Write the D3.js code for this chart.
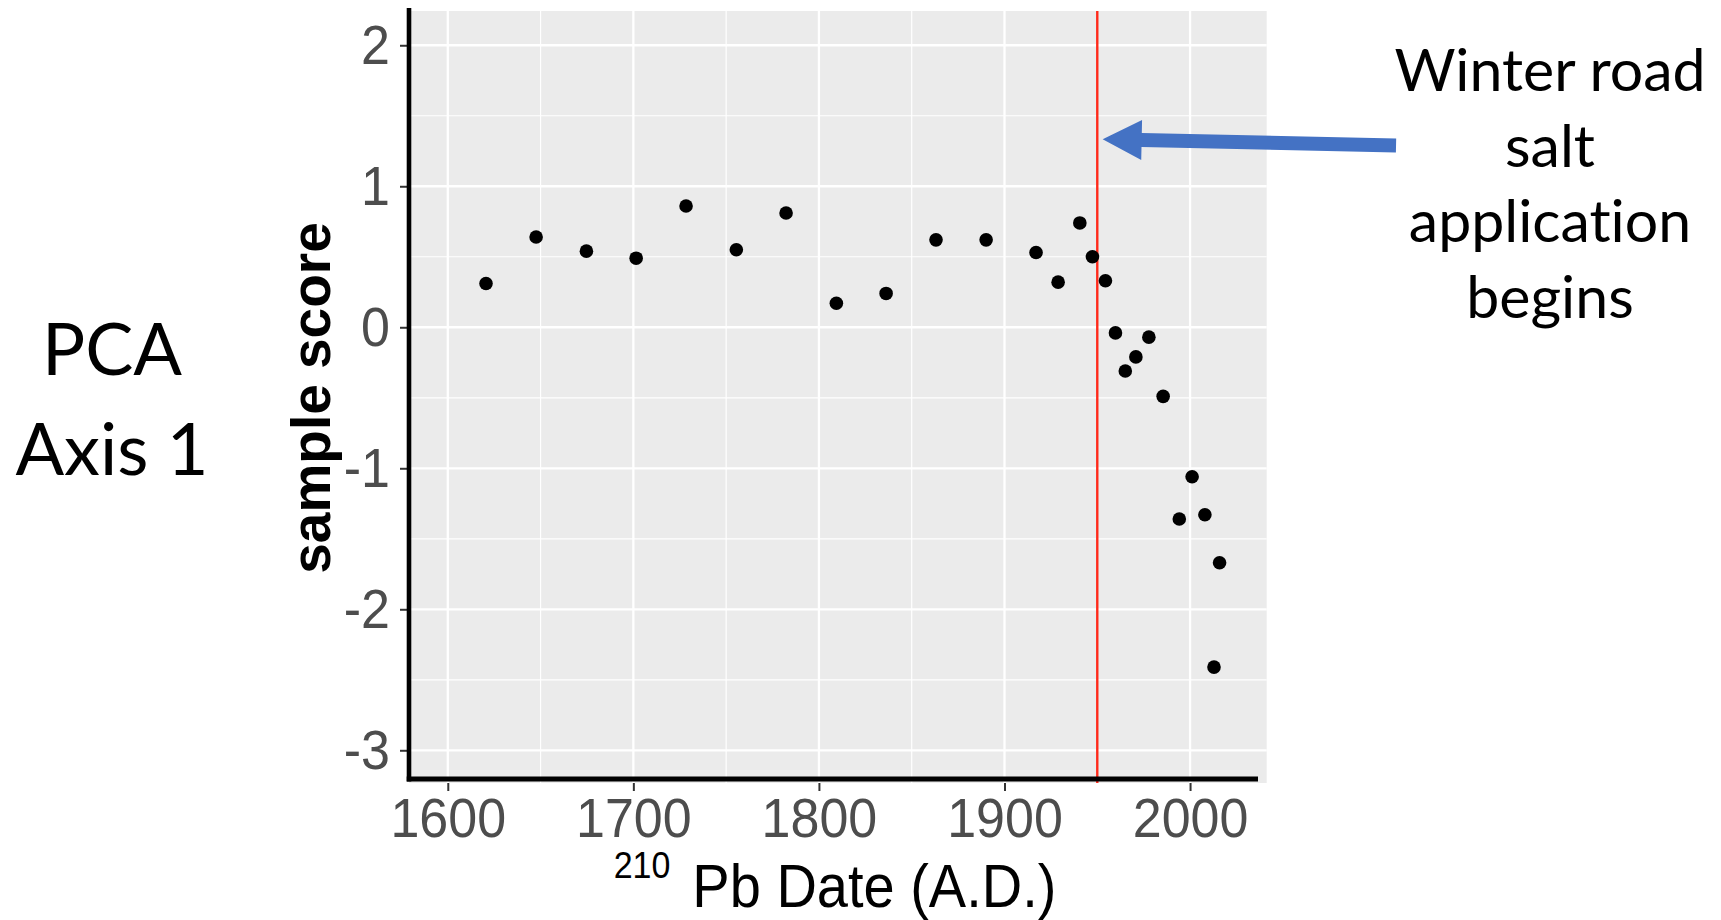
<!DOCTYPE html>
<html lang="en">
<head>
<meta charset="utf-8">
<title>PCA Axis 1 sample score vs 210Pb date</title>
<script src="https://d3js.org/d3.v7.min.js"></script>
<style>
  html, body { margin: 0; padding: 0; background: #fff; }
  text { font-variant-ligatures: none; }
</style>
</head>
<body>
<script>
// chart size
var w = 1721, h = 920;

// data
var years  = [1620.6, 1647.6, 1674.7, 1701.5, 1728.4, 1755.5, 1782.3, 1809.4, 1836.2,
              1863.1, 1890.1, 1917.0, 1928.9, 1940.6, 1947.4, 1954.4, 1959.8, 1965.1,
              1970.8, 1977.8, 1985.5, 1994.2, 2001.1, 2008.0, 2012.9, 2015.9];
var scores = [0.31, 0.64, 0.54, 0.49, 0.86, 0.55, 0.81, 0.17, 0.24,
              0.62, 0.62, 0.53, 0.32, 0.74, 0.50, 0.33, -0.04, -0.31,
              -0.21, -0.07, -0.49, -1.36, -1.06, -1.33, -2.41, -1.67];

var xTicks = [1600, 1700, 1800, 1900, 2000];
var xMinor = [1650, 1750, 1850, 1950];
var yTicks = [-3, -2, -1, 0, 1, 2];
var yMinor = [-2.5, -1.5, -0.5, 0.5, 1.5];

var saltYear = 1950;
var arrowFrom = [2111, 1.29];    // tail (year, score)
var arrowTo   = [1952.9, 1.333]; // head tip

var sideLabel = ["PCA", "Axis 1"];
var noteLines = ["Winter road", "salt", "application", "begins"];

// panel
var panel = { left: 409, right: 1266.7, top: 11, bottom: 783 };

var x = d3.scaleLinear().domain([1579.1, 2041.3]).range([panel.left, panel.right]);
var y = d3.scaleLinear().domain([2.243, -3.232]).range([panel.top, panel.bottom]);

var svg = d3.select("body").append("svg")
    .attr("width", w)
    .attr("height", h);

// grey panel
svg.append("rect")
    .attr("x", panel.left).attr("y", panel.top)
    .attr("width", panel.right - panel.left)
    .attr("height", panel.bottom - panel.top)
    .attr("fill", "#EBEBEB");

// grid: minor then major
var grid = svg.append("g");
grid.selectAll(".ymin").data(yMinor).enter().append("line")
    .attr("x1", panel.left).attr("x2", panel.right)
    .attr("y1", function(d) { return y(d); }).attr("y2", function(d) { return y(d); })
    .attr("stroke", "#fff").attr("stroke-width", 1.2);
grid.selectAll(".xmin").data(xMinor).enter().append("line")
    .attr("y1", panel.top).attr("y2", panel.bottom)
    .attr("x1", function(d) { return x(d); }).attr("x2", function(d) { return x(d); })
    .attr("stroke", "#fff").attr("stroke-width", 1.2);
grid.selectAll(".ymaj").data(yTicks).enter().append("line")
    .attr("x1", panel.left).attr("x2", panel.right)
    .attr("y1", function(d) { return y(d); }).attr("y2", function(d) { return y(d); })
    .attr("stroke", "#fff").attr("stroke-width", 2.3);
grid.selectAll(".xmaj").data(xTicks).enter().append("line")
    .attr("y1", panel.top).attr("y2", panel.bottom)
    .attr("x1", function(d) { return x(d); }).attr("x2", function(d) { return x(d); })
    .attr("stroke", "#fff").attr("stroke-width", 2.3);

// red line where salt starts
svg.append("line")
    .attr("x1", x(saltYear)).attr("x2", x(saltYear))
    .attr("y1", panel.top).attr("y2", panel.bottom)
    .attr("stroke", "#FF2A1A").attr("stroke-width", 2.4);

// points
svg.selectAll("circle")
    .data(years)
    .enter()
    .append("circle")
    .attr("cx", function(d) { return x(d); })
    .attr("cy", function(d, i) { return y(scores[i]); })
    .attr("r", 6.8)
    .attr("fill", "#000");

// axes
var xAxis = svg.append("g")
    .attr("transform", "translate(0," + panel.bottom + ")")
    .call(d3.axisBottom(x).tickValues(xTicks).tickFormat(d3.format("d")).tickSize(8).tickPadding(5));
var yAxis = svg.append("g")
    .attr("transform", "translate(" + (panel.left - 2) + ",0)")
    .call(d3.axisLeft(y).tickValues(yTicks).tickFormat(d3.format("d")).tickSize(7).tickPadding(10));

[xAxis, yAxis].forEach(function(a) {
    a.select(".domain").remove();
    a.selectAll(".tick line").attr("stroke", "#333").attr("stroke-width", 2);
    a.selectAll(".tick text")
        .attr("fill", "#4D4D4D")
        .attr("transform", "scale(1,1.08)")   // the picture is a bit stretched up-down
        .style("font-family", "'Liberation Sans', Arial, sans-serif")
        .style("font-size", "52px");
});
yAxis.selectAll(".tick text").text(function(d) { return d < 0 ? "-" + Math.abs(d) : d; });

// black axis lines
svg.append("line")
    .attr("x1", panel.left).attr("x2", panel.left)
    .attr("y1", 8).attr("y2", 781.5)
    .attr("stroke", "#000").attr("stroke-width", 4.6);
svg.append("line")
    .attr("x1", panel.left - 2.3).attr("x2", 1258)
    .attr("y1", 779).attr("y2", 779)
    .attr("stroke", "#000").attr("stroke-width", 4.8);

// axis titles
svg.append("text")
    .attr("transform", "translate(330,398) rotate(-90)")
    .attr("text-anchor", "middle")
    .style("font-family", "'Liberation Sans', Arial, sans-serif")
    .style("font-weight", "bold")
    .style("font-size", "55px")
    .attr("fill", "#000")
    .text("sample score");

var xt = svg.append("text")
    .attr("transform", "translate(835,907) scale(1,1.08)")
    .attr("text-anchor", "middle")
    .style("font-family", "'Liberation Sans', Arial, sans-serif")
    .attr("fill", "#000");
xt.append("tspan").attr("dy", -27).style("font-size", "34px").text("210");
xt.append("tspan").attr("dy", 27).attr("dx", 22).style("font-size", "56px").text("Pb Date (A.D.)");

// arrow (in data units through the scales)
var ax0 = x(arrowFrom[0]), ay0 = y(arrowFrom[1]);
var ax1 = x(arrowTo[0]), ay1 = y(arrowTo[1]);
var len = Math.sqrt((ax1 - ax0) * (ax1 - ax0) + (ay1 - ay0) * (ay1 - ay0));
var ux = (ax1 - ax0) / len, uy = (ay1 - ay0) / len;
var nx = -uy, ny = ux;
var headLen = 39, headHalf = 20, shaftHalf = 7;
var bx = ax1 - ux * headLen, by = ay1 - uy * headLen;
var pts = [
    [ax0 + nx * shaftHalf, ay0 + ny * shaftHalf],
    [bx + nx * shaftHalf, by + ny * shaftHalf],
    [bx + nx * headHalf, by + ny * headHalf],
    [ax1, ay1],
    [bx - nx * headHalf, by - ny * headHalf],
    [bx - nx * shaftHalf, by - ny * shaftHalf],
    [ax0 - nx * shaftHalf, ay0 - ny * shaftHalf]
];
svg.append("path")
    .attr("d", d3.line()(pts) + "Z")
    .attr("fill", "#4472C4");

// annotation text on the right
svg.append("g").selectAll("text")
    .data(noteLines)
    .enter().append("text")
    .attr("x", 1550)
    .attr("y", function(d, i) { return 91 + i * 75.5; })
    .attr("text-anchor", "middle")
    .style("font-family", "Lato, 'Open Sans', sans-serif")
    .style("font-size", "59px")
    .attr("fill", "#000")
    .text(function(d) { return d; });

// side label on the left
svg.append("g").selectAll("text")
    .data(sideLabel)
    .enter().append("text")
    .attr("x", 112)
    .attr("y", function(d, i) { return 375 + i * 100; })
    .attr("text-anchor", "middle")
    .style("font-family", "Lato, 'Open Sans', sans-serif")
    .style("font-size", "72px")
    .attr("fill", "#000")
    .text(function(d) { return d; });
</script>
</body>
</html>
